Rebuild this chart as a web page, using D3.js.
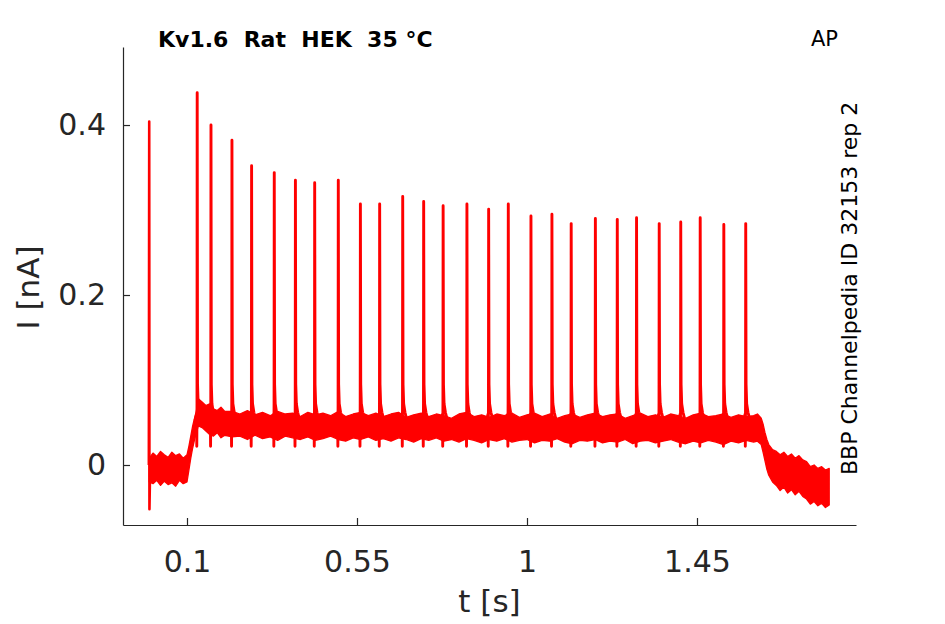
<!DOCTYPE html>
<html>
<head>
<meta charset="utf-8">
<script src="https://cdn.jsdelivr.net/npm/d3@7"></script>
<style>
  html, body { margin: 0; padding: 0; background: #fff; }
  svg text { font-family: "DejaVu Sans", sans-serif; }
</style>
</head>
<body>
<svg id="chart" width="945" height="624"></svg>
<script>
// ---------- data ----------
const titleText = "Kv1.6  Rat  HEK  35 °C";
const cornerText = "AP";
const sideText = "BBP Channelpedia ID 32153 rep 2";
const xLabel = "t [s]";
const yLabel = "I [nA]";
const xTicks = [0.1, 0.55, 1, 1.45];
const xTickLabels = ["0.1", "0.55", "1", "1.45"];
const yTicks = [0, 0.2, 0.4];
const yTickLabels = ["0", "0.2", "0.4"];

// stimulus artefact at trace start
const artTime = [0.000];
const artPeak = [0.404];
const artDip = [-0.052];

// evoked spikes: times (s) and peak currents (nA)
const spikeTimes = [0.127, 0.1635, 0.219, 0.271, 0.331, 0.387, 0.438, 0.5005, 0.559, 0.610,
  0.671, 0.7265, 0.778, 0.841, 0.8985, 0.9505, 1.0105, 1.066, 1.117, 1.181,
  1.239, 1.290, 1.350, 1.407, 1.4585, 1.521, 1.579];
const spikePeaks = [0.438, 0.400, 0.382, 0.352, 0.344, 0.335, 0.332, 0.335, 0.307, 0.307,
  0.316, 0.310, 0.305, 0.307, 0.301, 0.307, 0.293, 0.295, 0.284, 0.290,
  0.289, 0.291, 0.284, 0.286, 0.291, 0.283, 0.284];

// noise envelope of the holding current (time, lower, upper)
const envT = [0.000,0.010,0.020,0.030,0.040,0.050,0.060,0.070,0.080,0.090,0.100,
  0.105,0.110,0.115,0.120,0.125,0.130,
  0.140,0.150,0.160,0.170,0.180,0.190,0.200,
  0.22,0.24,0.26,0.28,0.30,0.32,0.34,0.36,0.38,0.40,
  0.42,0.44,0.46,0.48,0.50,0.52,0.54,0.56,0.58,0.60,
  0.62,0.64,0.66,0.68,0.70,0.72,0.74,0.76,0.78,0.80,
  0.82,0.84,0.86,0.88,0.90,0.92,0.94,0.96,0.98,1.00,
  1.02,1.04,1.06,1.08,1.10,1.12,1.14,1.16,1.18,1.20,
  1.22,1.24,1.26,1.28,1.30,1.32,1.34,1.36,1.38,1.40,
  1.42,1.44,1.46,1.48,1.50,1.52,1.54,1.56,1.58,1.60,
  1.61,1.62,1.625,1.63,1.635,1.64,1.65,
  1.66,1.67,1.68,1.69,1.70,1.71,1.72,1.73,1.74,1.75,1.76,1.77,1.78,1.79,1.80];
const envHi = [0.008,0.014,0.010,0.016,0.012,0.009,0.015,0.011,0.013,0.008,0.012,
  0.022,0.034,0.046,0.055,0.064,0.078,
  0.074,0.070,0.072,0.066,0.064,0.068,0.063,
  0.063,0.060,0.064,0.059,0.062,0.058,0.063,0.060,0.061,0.057,
  0.062,0.059,0.061,0.058,0.063,0.057,0.060,0.062,0.058,0.061,
  0.057,0.060,0.062,0.056,0.059,0.061,0.057,0.060,0.058,0.055,
  0.060,0.062,0.057,0.059,0.056,0.060,0.058,0.061,0.056,0.059,
  0.061,0.057,0.060,0.055,0.058,0.060,0.056,0.059,0.061,0.057,
  0.059,0.060,0.055,0.058,0.061,0.057,0.059,0.056,0.060,0.058,
  0.055,0.059,0.061,0.057,0.058,0.060,0.056,0.059,0.057,0.058,
  0.060,0.055,0.048,0.038,0.030,0.024,0.018,
  0.016,0.012,0.015,0.010,0.013,0.008,0.011,0.006,0.004,-0.002,0.000,-0.004,-0.002,-0.006,-0.004];
const envLo = [-0.020,-0.022,-0.018,-0.024,-0.019,-0.023,-0.021,-0.025,-0.018,-0.022,-0.020,
  -0.006,0.008,0.020,0.030,0.038,0.046,
  0.044,0.040,0.036,0.034,0.038,0.032,0.035,
  0.033,0.034,0.030,0.035,0.031,0.033,0.029,0.034,0.032,0.030,
  0.033,0.029,0.031,0.034,0.030,0.028,0.032,0.030,0.033,0.029,
  0.031,0.028,0.032,0.030,0.027,0.031,0.029,0.032,0.028,0.030,
  0.027,0.031,0.029,0.026,0.030,0.028,0.031,0.027,0.029,0.030,
  0.026,0.029,0.028,0.031,0.027,0.025,0.029,0.028,0.030,0.026,
  0.028,0.027,0.030,0.025,0.028,0.029,0.026,0.028,0.030,0.027,
  0.025,0.028,0.026,0.029,0.027,0.024,0.028,0.026,0.029,0.027,
  0.028,0.024,0.015,0.005,-0.005,-0.012,-0.020,
  -0.024,-0.030,-0.026,-0.033,-0.029,-0.035,-0.031,-0.037,-0.040,-0.046,-0.043,-0.048,-0.045,-0.050,-0.047];

// ---------- chart ----------
const svg = d3.select("#chart");
const red = "#ff0000";
const axisColor = "#262626";

const x = d3.scaleLinear().domain([-0.0694, 1.8709]).range([123, 856]);
const y = d3.scaleLinear().domain([-0.0706, 0.4918]).range([525, 47]);

// noise band
const band = envT.map((t, i) => ({ t, lo: envLo[i], hi: envHi[i] }));
const area = d3.area().x(d => x(d.t)).y0(d => y(d.lo)).y1(d => y(d.hi));
svg.append("path").datum(band)
  .attr("d", area).attr("fill", red).attr("stroke", red).attr("stroke-width", 1.3)
  .attr("stroke-linejoin", "round");

const line = d3.line().x(d => x(d[0])).y(d => y(d[1]));

// artefact
artTime.forEach((t, i) => {
  const pts = [[t - 0.001, 0.0], [t, artPeak[i]], [t + 0.0006, artDip[i]], [t + 0.002, -0.015]];
  svg.append("path").attr("d", line(pts)).attr("fill", "none")
    .attr("stroke", red).attr("stroke-width", 2.6).attr("stroke-linejoin", "round");
});

// spikes (shape offsets around each spike time)
const shapeDt = [-0.006, -0.0016, -0.0011, -0.0005, 0, 0.0009, 0.0025, 0.006, 0.010];
const shapeV  = [0.052, 0.060, 0.022, 0.072, null, 0.095, 0.072, 0.062, 0.055];
spikeTimes.forEach((t, i) => {
  const pts = shapeDt.map((dt, k) => [t + dt, shapeV[k] === null ? spikePeaks[i] : shapeV[k]]);
  svg.append("path").attr("d", line(pts)).attr("fill", "none")
    .attr("stroke", red).attr("stroke-width", 2.9).attr("stroke-linejoin", "round");
});

// axes
const xAxis = d3.axisBottom(x).tickValues(xTicks).tickFormat((d, i) => xTickLabels[i])
  .tickSizeInner(-7).tickSizeOuter(0).tickPadding(26);
const gx = svg.append("g").attr("transform", "translate(0,525)").call(xAxis);
const yAxis = d3.axisLeft(y).tickValues(yTicks).tickFormat((d, i) => yTickLabels[i])
  .tickSizeInner(-7).tickSizeOuter(0).tickPadding(17);
const gy = svg.append("g").attr("transform", "translate(123,0)").call(yAxis);
[gx, gy].forEach(g => {
  g.select(".domain").attr("stroke", axisColor).attr("stroke-width", 1.2);
  g.selectAll(".tick line").attr("stroke", axisColor).attr("stroke-width", 1.2);
  g.selectAll(".tick text").attr("fill", axisColor)
    .style("font-family", "'DejaVu Sans', sans-serif").style("font-size", "30px");
});

// axis labels
svg.append("text").attr("x", 489.5).attr("y", 612).attr("text-anchor", "middle")
  .attr("fill", axisColor).style("font-size", "31px").text(xLabel);
svg.append("text").attr("transform", "translate(39,287.5) rotate(-90)")
  .attr("text-anchor", "middle").attr("fill", axisColor).style("font-size", "31px").text(yLabel);

// title and annotations
svg.append("text").attr("x", 158).attr("y", 46.5).style("font-size", "22px")
  .style("font-weight", "bold").style("white-space", "pre").attr("fill", "#000").text(titleText);
svg.append("text").attr("x", 811).attr("y", 46).style("font-size", "21px")
  .attr("fill", "#000").text(cornerText);
svg.append("text").attr("transform", "translate(857,475) rotate(-90)")
  .attr("text-anchor", "start").style("font-size", "22px").attr("fill", "#000").text(sideText);
</script>
</body>
</html>
